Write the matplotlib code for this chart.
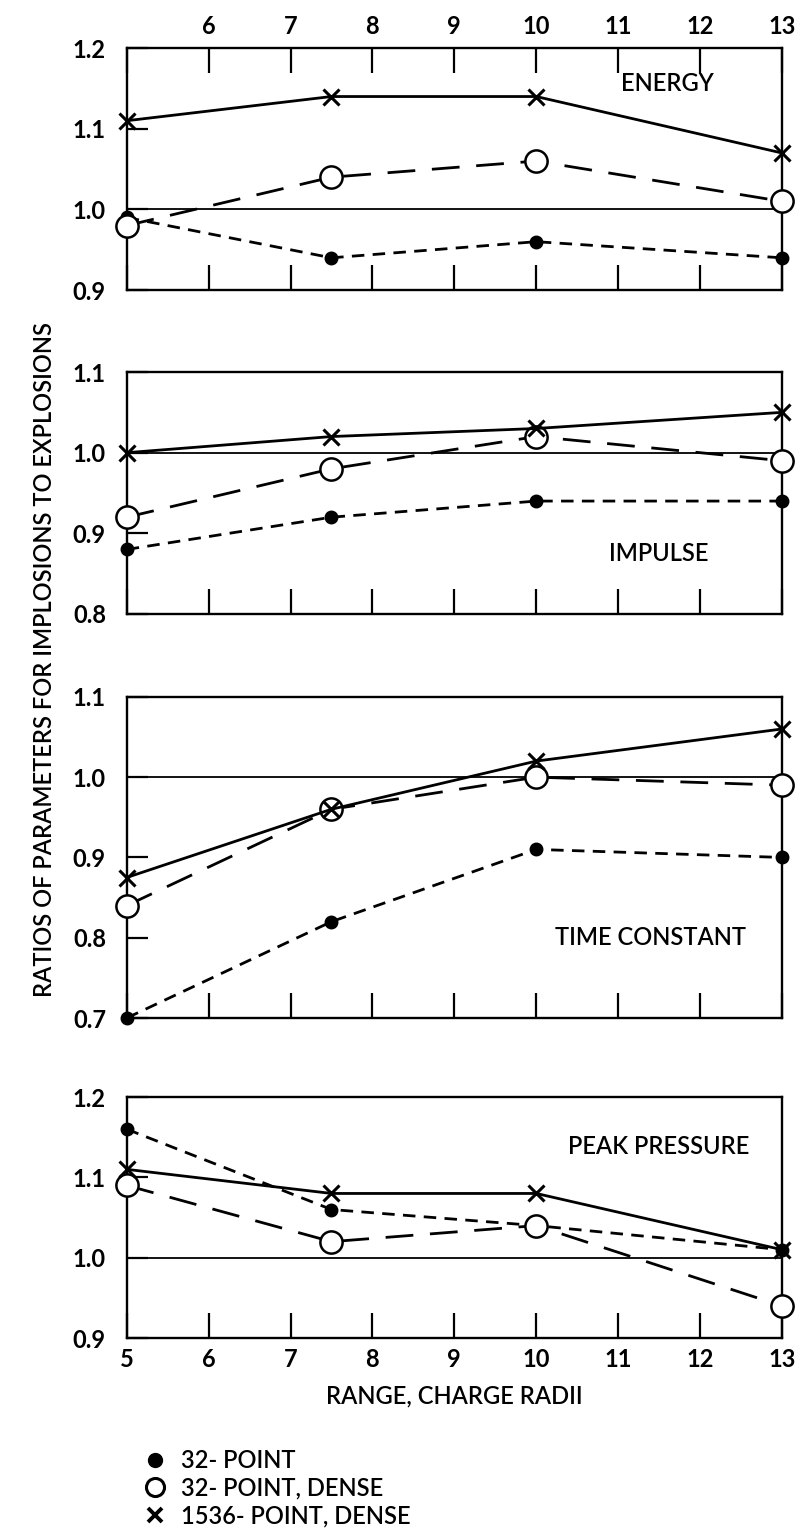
import matplotlib
matplotlib.use("Agg")
import matplotlib.pyplot as plt
from matplotlib.lines import Line2D

plt.rcParams['font.family'] = ['Lato', 'DejaVu Sans']

# ranges (charge radii)
rng = [5, 7.5, 10, 13]

# ratio values, one list per series per panel
energy_32 = [0.99, 0.94, 0.96, 0.94]
energy_dense = [0.98, 1.04, 1.06, 1.01]
energy_1536 = [1.11, 1.14, 1.14, 1.07]

impulse_32 = [0.88, 0.92, 0.94, 0.94]
impulse_dense = [0.92, 0.98, 1.02, 0.99]
impulse_1536 = [1.00, 1.02, 1.03, 1.05]

tconst_32 = [0.70, 0.82, 0.91, 0.90]
tconst_dense = [0.84, 0.96, 1.00, 0.99]
tconst_1536 = [0.875, 0.96, 1.02, 1.06]

peak_32 = [1.16, 1.06, 1.04, 1.01]
peak_dense = [1.09, 1.02, 1.04, 0.94]
peak_1536 = [1.11, 1.08, 1.08, 1.01]

panel_names = ['ENERGY', 'IMPULSE', 'TIME CONSTANT', 'PEAK PRESSURE']
panel_ylims = [(0.9, 1.2), (0.8, 1.1), (0.7, 1.1), (0.9, 1.2)]
series_labels = ['32- POINT', '32- POINT, DENSE', '1536- POINT, DENSE']

panels = [
    (energy_32, energy_dense, energy_1536),
    (impulse_32, impulse_dense, impulse_1536),
    (tconst_32, tconst_dense, tconst_1536),
    (peak_32, peak_dense, peak_1536),
]

# label positions (data coords) inside each panel
name_pos = [(11.6, 1.156), (11.5, 0.875), (11.4, 0.80), (11.5, 1.139)]

fig = plt.figure(figsize=(8.02, 15.38), dpi=100)

# [left, bottom, width, height] in figure fraction
rects = [
    [0.158, 0.8114, 0.817, 0.1573],
    [0.158, 0.6008, 0.817, 0.1573],
    [0.158, 0.3381, 0.817, 0.2088],
    [0.158, 0.1300, 0.817, 0.1567],
]

lw = 2.0
fs = 17
for i, (rect, (s32, sdense, s1536)) in enumerate(zip(rects, panels)):
    ax = fig.add_axes(rect)
    ax.axhline(1.0, color='black', lw=1.3, zorder=1)
    ax.plot(rng, s32, color='black', lw=lw, dashes=(4.5, 3),
            marker='o', ms=9, mfc='black', mec='black', clip_on=False, zorder=3)
    ax.plot(rng, sdense, color='black', lw=lw, dashes=(10, 6),
            marker='o', ms=16, mfc='white', mec='black', mew=1.8, clip_on=False, zorder=4)
    ax.plot(rng, s1536, color='black', lw=lw, linestyle='-',
            marker='x', ms=12, mew=2.2, mec='black', clip_on=False, zorder=5)

    ax.set_xlim(5, 13)
    ax.set_ylim(*panel_ylims[i])
    lo, hi = panel_ylims[i]
    yt = [round(lo + 0.1 * k, 1) for k in range(int(round((hi - lo) / 0.1)) + 1)]
    ax.set_yticks(yt)
    ax.set_yticklabels(['%.1f' % v for v in yt])
    ax.tick_params(axis='y', direction='in', length=15, width=1.6, pad=15,
                   labelsize=fs)
    for lbl in ax.get_yticklabels():
        lbl.set_fontweight('bold')

    ax.set_xticks(range(5, 14))
    ax.tick_params(axis='x', direction='in', length=18, width=1.6, labelsize=fs)
    if i == 0:
        ax.tick_params(axis='x', top=True, labeltop=True, labelbottom=False, pad=7)
        ax.set_xticklabels([''] + [str(v) for v in range(6, 14)])
    elif i == 3:
        ax.tick_params(axis='x', labelbottom=True, pad=7)
        ax.set_xlabel('RANGE, CHARGE RADII', fontsize=fs, labelpad=10,
                      fontweight='semibold')
    else:
        ax.tick_params(axis='x', labelbottom=False)
    for lbl in ax.get_xticklabels():
        lbl.set_fontweight('bold')

    for sp in ax.spines.values():
        sp.set_linewidth(1.7)

    ax.text(name_pos[i][0], name_pos[i][1], panel_names[i], fontsize=fs,
            ha='center', va='center', fontweight='semibold')

fig.text(0.056, 0.571, 'RATIOS OF PARAMETERS FOR IMPLOSIONS TO EXPLOSIONS',
         rotation=90, ha='center', va='center', fontsize=fs, fontweight='semibold')

handles = [
    Line2D([], [], linestyle='none', marker='o', ms=10, mfc='black', mec='black'),
    Line2D([], [], linestyle='none', marker='o', ms=13, mfc='white', mec='black', mew=2.2),
    Line2D([], [], linestyle='none', marker='x', ms=10, mew=2.8, mec='black'),
]
fig.legend(handles, series_labels, loc='upper left', bbox_to_anchor=(0.178, 0.058),
           frameon=False, handlelength=1.0, handletextpad=0.6,
           labelspacing=0.2, borderpad=0, borderaxespad=0,
           prop={'size': fs, 'weight': 'semibold'})

fig.savefig('out.png', dpi=100)
